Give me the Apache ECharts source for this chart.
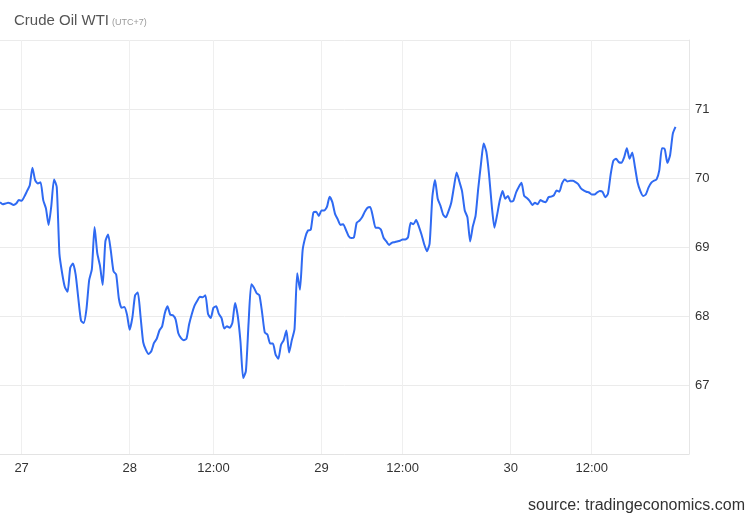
<!DOCTYPE html>
<html>
<head>
<meta charset="utf-8">
<script src="https://cdn.jsdelivr.net/npm/echarts@6/dist/echarts.min.js"></script>
<style>
html,body{margin:0;padding:0;background:#fff;}
#c{width:750px;height:519px;}
</style>
</head>
<body>
<div id="c"></div>
<script>
// Price of Crude Oil WTI, one value per sample slot
const prices = [
69.65,69.62,69.63,69.64,69.63,69.61,69.63,69.68,69.67,69.73,
69.81,69.89,70.15,69.97,69.92,69.94,69.68,69.56,69.32,69.60,
69.98,69.87,68.90,68.62,68.42,68.35,68.70,68.76,68.60,68.25,
67.93,67.90,68.10,68.52,68.68,69.29,68.91,68.73,68.45,69.08,
69.18,68.95,68.65,68.60,68.25,68.12,68.13,68.02,67.80,67.98,
68.30,68.34,68.00,67.62,67.51,67.45,67.49,67.61,67.67,67.79,
67.85,68.04,68.14,68.02,68.01,67.95,67.75,67.68,67.65,67.67,
67.88,68.03,68.15,68.22,68.28,68.27,68.30,68.03,67.97,68.12,
68.14,68.03,67.97,67.82,67.85,67.83,67.90,68.19,68.00,67.63,
67.10,67.20,67.90,68.46,68.41,68.33,68.30,68.05,67.76,67.73,
67.60,67.60,67.44,67.38,67.58,67.65,67.79,67.47,67.65,67.81,
68.62,68.38,68.95,69.14,69.24,69.25,69.50,69.51,69.45,69.53,
69.53,69.58,69.73,69.65,69.48,69.40,69.32,69.33,69.25,69.16,
69.13,69.14,69.35,69.38,69.43,69.51,69.57,69.58,69.44,69.28,
69.28,69.25,69.13,69.08,69.03,69.06,69.07,69.08,69.09,69.11,
69.11,69.14,69.35,69.33,69.39,69.30,69.18,69.04,68.94,69.05,
69.72,69.97,69.70,69.60,69.47,69.43,69.52,69.64,69.87,70.08,
69.95,69.81,69.53,69.43,69.08,69.30,69.45,69.85,70.20,70.50,
70.38,70.05,69.60,69.28,69.47,69.68,69.81,69.70,69.74,69.66,
69.67,69.79,69.87,69.93,69.74,69.71,69.67,69.61,69.64,69.62,
69.68,69.66,69.65,69.72,69.73,69.75,69.82,69.80,69.92,69.98,
69.95,69.96,69.96,69.94,69.91,69.85,69.82,69.80,69.79,69.76,
69.76,69.79,69.81,69.80,69.72,69.77,70.05,70.25,70.28,70.23,
70.22,70.30,70.43,70.28,70.37,70.16,69.93,69.81,69.74,69.76,
69.86,69.93,69.96,69.98,70.11,70.43,70.42,70.22,70.33,70.64,
70.74
];
// total sample slots on the time axis (last slots are still empty)
const slotCount = 256;
// x-axis tick positions (slot index) and their labels
const tickSlots = [8, 48, 79, 119, 149, 189, 219];
const tickLabels = ['27', '28', '12:00', '29', '12:00', '30', '12:00'];
// y-axis labels shown
const yLabels = [67, 68, 69, 70, 71];
const yMin = 66, yMax = 72;

const categories = [];
for (let i = 0; i < slotCount; i++) {
  const k = tickSlots.indexOf(i);
  categories.push(k >= 0 ? tickLabels[k] : '');
}
const tickSet = new Set(tickSlots);

const chart = echarts.init(document.getElementById('c'), null, {renderer: 'canvas'});
chart.setOption({
  animation: false,
  backgroundColor: '#ffffff',
  grid: {left: 0, right: 61, top: 40, bottom: 65, containLabel: false},
  graphic: [
    {type: 'text', left: 14, top: 13, style: {text: 'Crude Oil WTI', fill: '#555555', font: '15px "Liberation Sans", Arial, sans-serif'}},
    {type: 'text', left: 112, top: 18, style: {text: '(UTC+7)', fill: '#9a9a9a', font: '9px "Liberation Sans", Arial, sans-serif'}},
    {type: 'text', right: 5, top: 498, style: {text: 'source: tradingeconomics.com', fill: '#333333', font: '16px "Liberation Sans", Arial, sans-serif'}}
  ],
  xAxis: {
    type: 'category',
    data: categories,
    boundaryGap: false,
    axisLine: {show: true, lineStyle: {color: '#e3e3e3', width: 1}},
    axisTick: {show: false},
    axisLabel: {
      interval: (idx) => tickSet.has(idx),
      color: '#333333',
      fontSize: 13,
      fontFamily: '"Liberation Sans", Arial, sans-serif',
      margin: 8
    },
    splitLine: {
      show: true,
      interval: (idx) => tickSet.has(idx),
      lineStyle: {color: '#efefef', width: 1}
    }
  },
  yAxis: {
    type: 'value',
    position: 'right',
    min: yMin,
    max: yMax,
    interval: 1,
    axisLine: {show: true, lineStyle: {color: '#e6e6e6'}},
    axisTick: {show: false},
    axisLabel: {
      color: '#333333',
      fontSize: 13,
      fontFamily: '"Liberation Sans", Arial, sans-serif',
      margin: 6,
      formatter: (v) => yLabels.includes(v) ? String(v) : ''
    },
    splitLine: {show: true, lineStyle: {color: '#ebebeb', width: 1}}
  },
  series: [{
    type: 'line',
    data: prices,
    showSymbol: false,
    smooth: 0.2,
    lineStyle: {color: '#2f6af2', width: 2, join: 'round'},
    itemStyle: {color: '#2f6af2'}
  }]
});
</script>
</body>
</html>
